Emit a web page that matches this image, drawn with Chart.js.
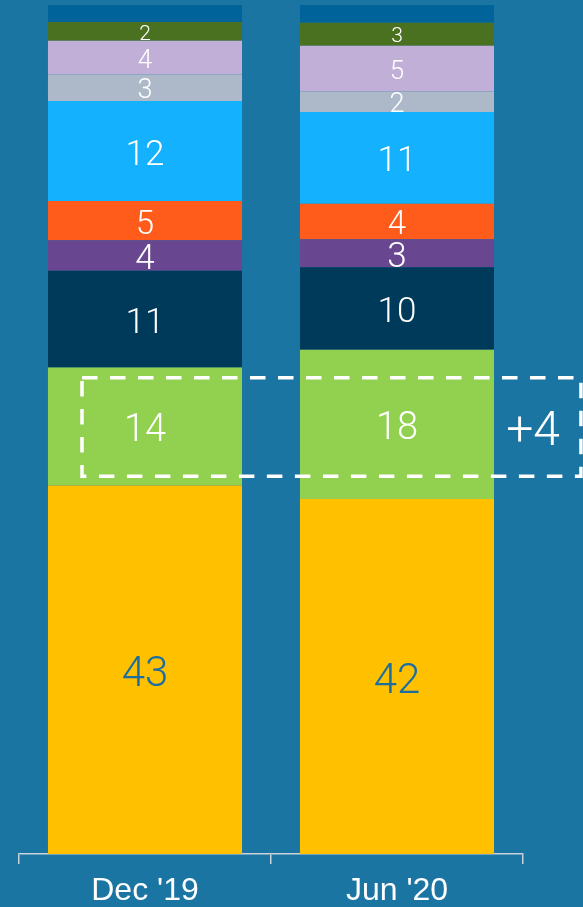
<!DOCTYPE html>
<html>
<head>
<meta charset="utf-8">
<script src="https://cdn.jsdelivr.net/npm/chart.js@4"></script>
<style>
  html, body { margin: 0; padding: 0; background: #1b75a2; }
  #wrap { width: 583px; height: 907px; }
</style>
</head>
<body>
<div id="wrap"><canvas id="chart"></canvas></div>
<script>
// periods on the x axis
const categories = ["Dec '19", "Jun '20"];

// stacked shares, bottom to top (label shown = rounded value)
const yellowShare   = [43.4, 41.8];
const greenShare    = [13.9, 17.6];
const navyShare     = [11.4, 9.7];
const purpleShare   = [3.6, 3.3];
const orangeShare   = [4.6, 4.2];
const cyanShare     = [11.8, 10.8];
const greyShare     = [3.1, 2.4];
const lavenderShare = [4.0, 5.4];
const oliveShare    = [2.2, 2.7];
const topShare      = [2.0, 2.1];

// highlighted band and its delta
const highlightRange = [44.5, 56.1];
const highlightText = '+4';

function segment(name, data, color, labelColor, labelSize) {
    return {
        label: name,
        data: data,
        backgroundColor: color,
        borderWidth: 0,
        barPercentage: 0.77,
        categoryPercentage: 1.0,
        labelColor: labelColor,
        labelSize: labelSize
    };
}

const segmentLabels = {
    id: 'segmentLabels',
    afterDatasetsDraw(chart) {
        const ctx = chart.ctx;
        ctx.save();
        ctx.textAlign = 'center';
        ctx.textBaseline = 'middle';
        chart.data.datasets.forEach((ds, i) => {
            if (!ds.labelSize) return;
            const meta = chart.getDatasetMeta(i);
            meta.data.forEach((bar, j) => {
                ctx.font = '300 ' + ds.labelSize + 'px Roboto';
                ctx.fillStyle = ds.labelColor;
                // digits sit a bit high with 'middle', nudge down
                ctx.fillText(Math.round(ds.data[j]), bar.x, (bar.y + bar.base) / 2 + ds.labelSize * 0.14);
            });
        });

        // dashed highlight box
        const x = chart.scales.x;
        const y = chart.scales.y;
        const step = x.getPixelForValue(1) - x.getPixelForValue(0);
        const left = x.getPixelForValue(0) - 0.25 * step;
        const right = x.getPixelForValue(1) + 0.73 * step;
        const top = y.getPixelForValue(highlightRange[1]);
        const bottom = y.getPixelForValue(highlightRange[0]);
        ctx.strokeStyle = '#ffffff';
        ctx.lineWidth = 3.5;
        ctx.setLineDash([15.5, 12.5]);
        ctx.strokeRect(left, top, right - left, bottom - top);
        ctx.setLineDash([]);

        ctx.font = '300 48px Roboto';
        ctx.fillStyle = '#ffffff';
        ctx.fillText(highlightText, x.getPixelForValue(1) + 0.54 * step, (top + bottom) / 2 + 6);
        ctx.restore();
    }
};

new Chart(document.getElementById('chart'), {
    type: 'bar',
    data: {
        labels: categories,
        datasets: [
            segment('Yellow', yellowShare, '#ffc000', '#1b6ea0', 42),
            segment('Green', greenShare, '#92d050', '#ffffff', 38),
            segment('Navy', navyShare, '#003a5a', '#ffffff', 35),
            segment('Purple', purpleShare, '#694690', '#ffffff', 35),
            segment('Orange', orangeShare, '#ff5b1a', '#ffffff', 33),
            segment('Cyan', cyanShare, '#14b1ff', '#ffffff', 35),
            segment('Grey', greyShare, '#adb9c9', '#ffffff', 27),
            segment('Lavender', lavenderShare, '#c2afd7', '#ffffff', 26),
            segment('Olive', oliveShare, '#4a7120', '#ffffff', 21),
            segment('Top', topShare, '#00649b', '#ffffff', 0)
        ]
    },
    options: {
        responsive: true,
        maintainAspectRatio: false,
        animation: false,
        layout: {
            // label row hangs into the bottom edge like the original
            padding: { left: 19, right: 60, top: 5, bottom: -11 }
        },
        scales: {
            x: {
                stacked: true,
                grid: {
                    offset: true,
                    drawOnChartArea: false,
                    tickLength: 10,
                    color: '#c9d3dc',
                    lineWidth: 1.5
                },
                border: { color: '#c9d3dc', width: 1.5 },
                ticks: {
                    color: '#ffffff',
                    padding: 11,
                    font: { family: 'Liberation Sans, Arial', size: 32, lineHeight: 1.0 }
                }
            },
            y: {
                stacked: true,
                min: 0,
                max: 100,
                display: false
            }
        },
        plugins: {
            legend: { display: false },
            tooltip: { enabled: false }
        }
    },
    plugins: [segmentLabels]
});
</script>
</body>
</html>
